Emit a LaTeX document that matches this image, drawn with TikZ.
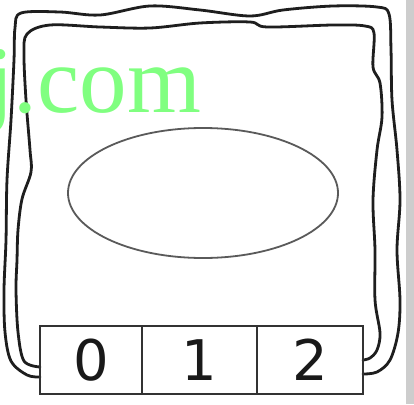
\documentclass[tikz,border=0pt]{standalone}
\usepackage{fontspec}
\setmainfont{Liberation Serif}
\newfontfamily\digitfont{DejaVu Sans}
\definecolor{wmgreen}{RGB}{128,255,128}
\definecolor{loopcol}{RGB}{30,30,30}
\definecolor{boxcol}{RGB}{50,50,50}
\definecolor{ellcol}{RGB}{90,90,90}
\definecolor{barcol}{RGB}{205,205,205}
\begin{document}
\begin{tikzpicture}[x=1pt,y=-1pt,
  cell/.style={draw=boxcol,line width=2.2pt,minimum height=68pt,inner sep=0pt,
    font=\digitfont\fontsize{56}{56}\selectfont,text=black!90},
  loopline/.style={draw=loopcol,line width=2.8pt,line join=round,line cap=round},
]
\useasboundingbox (0,0) rectangle (414,404);
\fill[white] (0,0) rectangle (414,404);
\fill[barcol] (406,0) rectangle (414,404);
% ellipse
\draw[ellcol,line width=1.8pt] (203,193) ellipse [x radius=135, y radius=65];
% loops
\coordinate (oL) at (40,377);
\coordinate (iL) at (40,367);
\coordinate (oR) at (363,374);
\coordinate (iR) at (363,360);
\draw[loopline] plot[smooth,tension=0.55] coordinates {
  (oL) (27,375) (11,361) (5,332) (4,290) (6,240) (7,180) (11,120) (14,60) (15,28) (21,13)
  (60,12) (100,15) (150,6) (200,10) (250,16) (283,10) (333,6) (377,7) (389,14)
  (391,50) (392,100) (397,150) (400,200) (397,250) (400,300) (398,333) (390,360) (377,372) (oR)};
\draw[loopline] plot[smooth,tension=0.55] coordinates {
  (iL) (24,361) (18,332) (16,290) (17,260) (18,230) (22,199) (31,172) (30,150) (26,100) (24,55) (27,34)
  (50,25) (100,27) (150,28) (200,23) (250,22) (267,27) (333,25) (365,26) (374,33)
  (373,67) (380,83) (382,117) (377,150) (373,200) (375,250) (375,300) (380,333) (377,350) (370,358) (iR)};
% box cells
\node[cell,minimum width=102pt] (c0) at (91,360) {0};
\node[cell,minimum width=115pt] (c1) at (199.5,360) {1};
\node[cell,minimum width=106pt] (c2) at (310,360) {2};
% watermark text
\node[anchor=base west,inner sep=0pt,text=wmgreen,font=\fontsize{95}{95}\selectfont] (wm) at (-13,112) {j.com};
\end{tikzpicture}
\end{document}
